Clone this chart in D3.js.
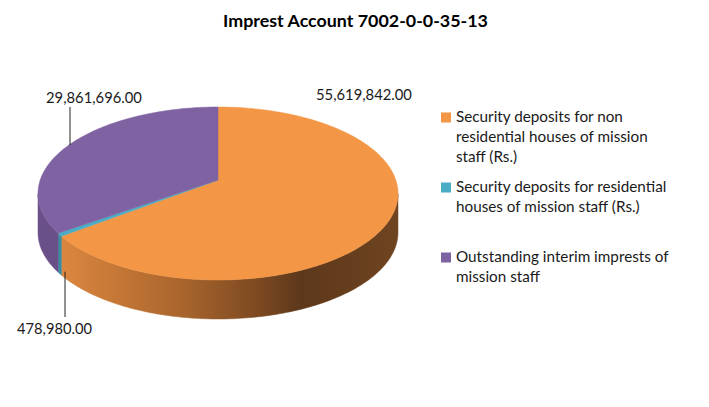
<!DOCTYPE html>
<html><head><meta charset="utf-8">
<script src="https://cdn.jsdelivr.net/npm/d3@7"></script>
<style>body{margin:0;background:#fff}svg{display:block}text{font-family:Lato,"Open Sans",sans-serif}</style>
</head><body>
<svg id="c" width="709" height="407"></svg>
<script>
const title = "Imprest Account 7002-0-0-35-13";
const categories = [
  "Security deposits for non residential houses of mission staff (Rs.)",
  "Security deposits for residential houses of mission staff (Rs.)",
  "Outstanding interim imprests of mission staff"
];
const legendLines = [
  ["Security deposits for non", "residential houses of mission", "staff (Rs.)"],
  ["Security deposits for residential", "houses of mission staff (Rs.)"],
  ["Outstanding interim imprests of", "mission staff"]
];
const values = [55619842, 478980, 29861696];
const valueLabels = ["55,619,842.00", "478,980.00", "29,861,696.00"];
const topColors = ["#F39646", "#4BACC6", "#7F62A1"];

const svg = d3.select("#c");
const W = 709, H = 407;

// geometry of 3D pie
const cx = 218, cy = 193.5, rx = 180, ry = 86.5, depth = 39, a = -0.156;
function proj(t, dz) {
  const u = Math.sin(t), v = -Math.cos(t);
  const d = 1 + a * v;
  return [cx + rx * u * Math.sqrt(1 - a * a) / d, cy + ry * (v + a) / d + (dz || 0)];
}
const center = [cx, cy + ry * a];

const pie = d3.pie().sort(null).value(d => d);
const arcs = pie(values);

const defs = svg.append("defs");
const g1 = defs.append("linearGradient").attr("id", "gOr").attr("gradientUnits", "userSpaceOnUse")
  .attr("x1", cx - rx).attr("x2", cx + rx).attr("y1", 0).attr("y2", 0);
[[0, "#E38D44"], [0.15, "#CF7E3A"], [0.4, "#A9652D"], [0.6, "#7F4B22"], [0.73, "#5D381A"], [1, "#6F4421"]]
  .forEach(([o, c]) => g1.append("stop").attr("offset", o).attr("stop-color", c));
const sideColors = ["url(#gOr)", "#3A8CA1", "#6A5089"];

const line = d3.line();
function arcPts(t0, t1, dz, n) {
  const pts = [];
  const steps = Math.max(2, Math.ceil(Math.abs(t1 - t0) / (Math.PI / 180)));
  for (let i = 0; i <= steps; i++) pts.push(proj(t0 + (t1 - t0) * i / steps, dz));
  return pts;
}

// sides (front half only)
const fa = Math.acos(a), fb = 2 * Math.PI - Math.acos(a);
const gSide = svg.append("g");
arcs.forEach((d, i) => {
  const t0 = Math.max(d.startAngle, fa), t1 = Math.min(d.endAngle, fb);
  if (t1 <= t0) return;
  const top = arcPts(t0, t1, 0);
  const bot = arcPts(t1, t0, depth);
  gSide.append("path").attr("d", line(top.concat(bot)) + "Z")
    .attr("fill", sideColors[i]).attr("stroke", sideColors[i]).attr("stroke-width", 0.5);
});

// top faces
const gTop = svg.append("g");
arcs.forEach((d, i) => {
  const pts = [center].concat(arcPts(d.startAngle, d.endAngle, 0));
  gTop.append("path").attr("d", line(pts) + "Z")
    .attr("fill", topColors[i]).attr("stroke", topColors[i]).attr("stroke-width", 0.5);
});

function fit(sel, target) {
  const w = sel.node().getComputedTextLength();
  const fs = parseFloat(sel.attr("font-size"));
  sel.attr("font-size", fs * target / w);
}

// title
const tt = svg.append("text").attr("x", 355.5).attr("y", 27).attr("text-anchor", "middle")
  .attr("font-weight", "bold").attr("font-size", 18).attr("fill", "#000").text(title);
fit(tt, 265);

// data labels
const labelPos = [[316, 100], [17, 334], [46, 103]];
const labelW = [96, 75, 96];
arcs.forEach((d, i) => {
  const t = svg.append("text").attr("x", labelPos[i][0]).attr("y", labelPos[i][1])
    .attr("font-size", 15).attr("fill", "#1a1a1a").text(valueLabels[i]);
  fit(t, labelW[i]);
});
// leader lines
const purpleMid = proj(arcs[2].startAngle + (arcs[2].endAngle - arcs[2].startAngle) * 0.5, 0);
const tealEdge = proj((arcs[1].startAngle + arcs[1].endAngle) / 2, depth);
svg.append("line").attr("x1", 70).attr("y1", 107).attr("x2", 70).attr("y2", 145)
  .attr("stroke", "#222").attr("stroke-width", 1);
svg.append("line").attr("x1", 65).attr("y1", tealEdge[1] - 2).attr("x2", 65).attr("y2", 317)
  .attr("stroke", "#222").attr("stroke-width", 1);

// legend
const legY = [122, 192, 262];
const lg = svg.append("g");
let legFs = 15;
const probe = lg.append("text").attr("font-size", 15).text(legendLines[0][0]);
legFs = 15 * 167 / probe.node().getComputedTextLength();
probe.remove();
legendLines.forEach((lines, i) => {
  lg.append("rect").attr("x", 441).attr("y", legY[i] - 9.5).attr("width", 10).attr("height", 10)
    .attr("fill", topColors[i]);
  lines.forEach((s, j) => {
    lg.append("text").attr("x", 456).attr("y", legY[i] + j * 20).attr("font-size", legFs)
      .attr("fill", "#1a1a1a").text(s);
  });
});
</script>
</body></html>
